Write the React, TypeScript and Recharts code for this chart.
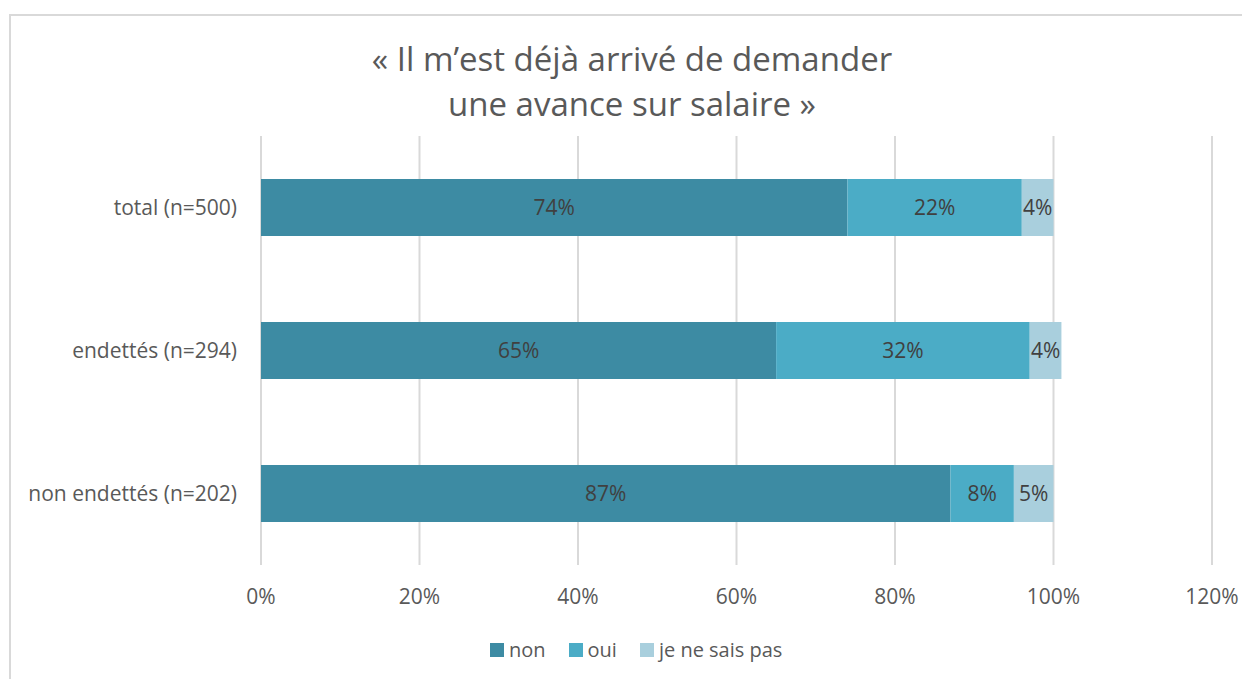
import React from "react";
import { BarChart, Bar, XAxis, YAxis, CartesianGrid, LabelList } from "recharts";

const categories = ["total (n=500)", "endettés (n=294)", "non endettés (n=202)"];
const nonValues = [74, 65, 87];
const ouiValues = [22, 32, 8];
const jnspValues = [4, 4, 5];
const xTicks = [0, 20, 40, 60, 80, 100, 120];
const titleLines = ["« Il m’est déjà arrivé de demander", "une avance sur salaire »"];
const seriesNames = ["non", "oui", "je ne sais pas"];
const seriesColors = ["#3D8BA3", "#4BACC6", "#A9CFDD"];

const data = categories.map((c, i) => ({
  name: c,
  non: nonValues[i],
  oui: ouiValues[i],
  jnsp: jnspValues[i],
}));

const FONT = "'Open Sans', sans-serif";
const TEXT = "#595959";

const pct = (v: any) => `${v}%`;

export default function App() {
  return (
    <div
      style={{
        position: "fixed",
        left: 0,
        top: 0,
        width: 1242,
        height: 679,
        background: "#fff",
        overflow: "hidden",
        fontFamily: FONT,
      }}
    >
      <div
        style={{
          position: "absolute",
          left: 9,
          top: 14,
          width: 1300,
          height: 700,
          borderTop: "2px solid #d9d9d9",
          borderLeft: "2px solid #d9d9d9",
        }}
      />
      <div
        style={{
          position: "absolute",
          left: 0,
          width: 1264,
          top: 36,
          textAlign: "center",
          fontSize: 33,
          lineHeight: "45px",
          color: TEXT,
        }}
      >
        {titleLines.map((t) => (
          <div key={t}>{t}</div>
        ))}
      </div>
      <div style={{ position: "absolute", left: 0, top: 0 }}>
        <BarChart
          width={1242}
          height={679}
          data={data}
          layout="vertical"
          margin={{ top: 136, right: 30, bottom: 84, left: 0 }}
          barSize={57}
        >
          <CartesianGrid horizontal={false} stroke="#d9d9d9" strokeWidth={2} />
          <XAxis
            type="number"
            domain={[0, 120]}
            ticks={xTicks}
            tickFormatter={pct}
            axisLine={false}
            tickLine={false}
            tickMargin={18}
            tick={{ fill: TEXT, fontSize: 21, fontFamily: FONT }}
            interval={0}
          />
          <YAxis
            type="category"
            dataKey="name"
            width={261}
            axisLine={false}
            tickLine={false}
            tickMargin={18}
            tick={{ fill: TEXT, fontSize: 21, fontFamily: FONT }}
          />
          <Bar dataKey="non" stackId="a" fill={seriesColors[0]} isAnimationActive={false}>
            <LabelList dataKey="non" position="center" formatter={pct} fill="#404040" fontSize={21} fontFamily={FONT} />
          </Bar>
          <Bar dataKey="oui" stackId="a" fill={seriesColors[1]} isAnimationActive={false}>
            <LabelList dataKey="oui" position="center" formatter={pct} fill="#404040" fontSize={21} fontFamily={FONT} />
          </Bar>
          <Bar dataKey="jnsp" stackId="a" fill={seriesColors[2]} isAnimationActive={false}>
            <LabelList dataKey="jnsp" position="center" formatter={pct} fill="#404040" fontSize={21} fontFamily={FONT} />
          </Bar>
        </BarChart>
      </div>
      <div
        style={{
          position: "absolute",
          left: 490,
          top: 636,
          height: 28,
          display: "flex",
          alignItems: "center",
          fontSize: 20,
          color: TEXT,
          lineHeight: "28px",
        }}
      >
        {seriesNames.map((n, i) => (
          <div key={n} style={{ display: "flex", alignItems: "center", marginRight: 23 }}>
            <span
              style={{
                display: "inline-block",
                width: 14,
                height: 14,
                background: seriesColors[i],
                marginRight: 5,
              }}
            />
            <span>{n}</span>
          </div>
        ))}
      </div>
    </div>
  );
}
